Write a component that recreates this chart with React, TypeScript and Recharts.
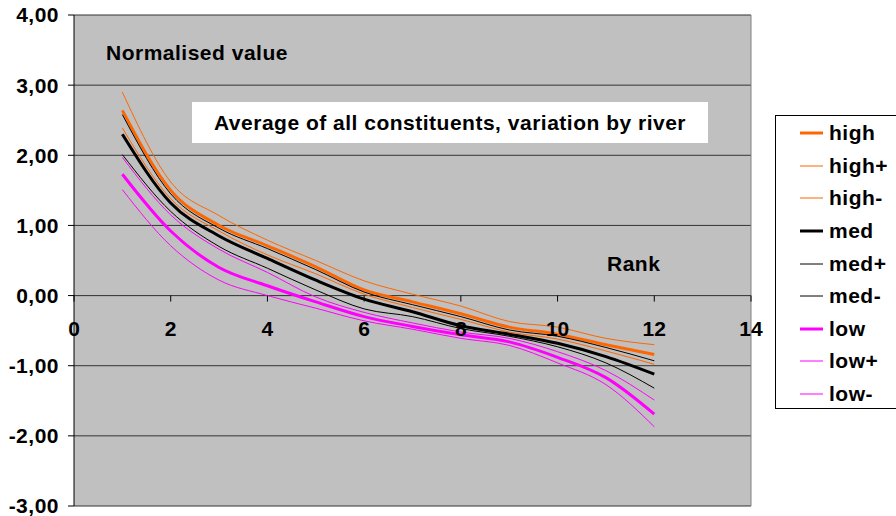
import React from 'react';
import { LineChart, Line, XAxis, YAxis, CartesianGrid, ReferenceLine, ReferenceDot } from 'recharts';

const ranks = [1, 2, 3, 4, 5, 6, 7, 8, 9, 10, 11, 12];

const highPlus = [2.9, 1.62, 1.14, 0.79, 0.5, 0.21, 0.02, -0.15, -0.37, -0.45, -0.61, -0.7];
const high = [2.64, 1.5, 1.0, 0.71, 0.41, 0.08, -0.09, -0.26, -0.45, -0.55, -0.7, -0.84];
const medPlus = [2.58, 1.45, 0.96, 0.67, 0.37, 0.05, -0.13, -0.3, -0.49, -0.58, -0.74, -0.93];
const highMinus = [2.39, 1.38, 0.92, 0.58, 0.31, 0.02, -0.17, -0.34, -0.52, -0.62, -0.79, -0.98];
const med = [2.3, 1.32, 0.85, 0.53, 0.22, -0.05, -0.23, -0.43, -0.55, -0.68, -0.87, -1.12];
const medMinus = [2.01, 1.2, 0.7, 0.39, 0.08, -0.19, -0.3, -0.47, -0.58, -0.73, -0.96, -1.32];
const lowPlus = [1.97, 1.15, 0.66, 0.33, -0.02, -0.24, -0.39, -0.52, -0.61, -0.8, -1.07, -1.49];
const low = [1.73, 0.92, 0.4, 0.14, -0.09, -0.3, -0.44, -0.56, -0.66, -0.88, -1.17, -1.69];
const lowMinus = [1.51, 0.71, 0.22, 0.0, -0.18, -0.36, -0.48, -0.61, -0.71, -0.96, -1.27, -1.87];

const yTicks = [-3, -2, -1, 0, 1, 2, 3, 4];
const xTicks = [0, 2, 4, 6, 8, 10, 12, 14];

const ORANGE = '#FF6600';
const MAGENTA = '#FF00FF';
const FONT = '"Liberation Sans", Arial, sans-serif';

const series = [
  { key: 'high', values: high, color: ORANGE, width: 3 },
  { key: 'high+', values: highPlus, color: ORANGE, width: 1 },
  { key: 'high-', values: highMinus, color: ORANGE, width: 1 },
  { key: 'med', values: med, color: '#000000', width: 3 },
  { key: 'med+', values: medPlus, color: '#000000', width: 1 },
  { key: 'med-', values: medMinus, color: '#000000', width: 1 },
  { key: 'low', values: low, color: MAGENTA, width: 3 },
  { key: 'low+', values: lowPlus, color: MAGENTA, width: 1 },
  { key: 'low-', values: lowMinus, color: MAGENTA, width: 1 },
];

const data = ranks.map((rank, i) => {
  const row: Record<string, number> = { rank };
  series.forEach((s) => { row[s.key] = s.values[i]; });
  return row;
});

const fmt = (v: number) => v.toFixed(2).replace('.', ',');

const textStyle: React.CSSProperties = {
  position: 'absolute',
  fontFamily: FONT,
  fontWeight: 'bold',
  fontSize: 21,
  letterSpacing: 0.5,
  lineHeight: '21px',
  color: '#000',
  whiteSpace: 'nowrap',
};

const LegendBox = () => (
  <div style={{
    position: 'absolute', left: 775, top: 115, width: 140, height: 294, background: '#fff',
    border: '1px solid #000', boxSizing: 'border-box', paddingTop: 1, fontFamily: FONT,
  }}>
    {series.map((s) => (
      <div key={s.key} style={{ display: 'flex', alignItems: 'center', height: 32.6 }}>
        <svg width={48} height={10} style={{ display: 'block' }}>
          <line x1={24} y1={5} x2={47} y2={5} stroke={s.color} strokeWidth={s.width} />
        </svg>
        <span style={{ marginLeft: 5, fontSize: 21, letterSpacing: 0.5, fontWeight: 'bold', color: '#000' }}>{s.key}</span>
      </div>
    ))}
  </div>
);

const XTick = (props: any) => (
  <line x1={props.cx} y1={props.cy} x2={props.cx} y2={props.cy + 6} stroke="#000" strokeWidth={1} />
);

export default function App() {
  return (
    <div style={{ position: 'absolute', left: 0, top: 0, width: 896, height: 516, background: '#fff', overflow: 'hidden' }}>
      <LineChart width={896} height={516} data={data} margin={{ top: 15, right: 145, bottom: 10, left: 0 }}>
        <CartesianGrid vertical={false} fill="#C0C0C0" stroke="#333" strokeWidth={1} />
        <XAxis dataKey="rank" type="number" domain={[0, 14]} ticks={xTicks} hide />
        <YAxis
          type="number"
          domain={[-3, 4]}
          ticks={yTicks}
          interval={0}
          tickFormatter={fmt}
          width={74}
          tickSize={6}
          tickMargin={9}
          axisLine={{ stroke: '#000' }}
          tickLine={{ stroke: '#000' }}
          tick={{ fill: '#000', fontSize: 21, letterSpacing: 0.5, fontWeight: 'bold', fontFamily: FONT }}
        />
        <ReferenceLine x={14} stroke="#808080" />
        <ReferenceLine y={0} stroke="#404040" />
        {xTicks.map((t) => (
          <ReferenceDot
            key={t}
            x={t}
            y={0}
            r={0}
            shape={XTick}
            label={{ value: String(t), position: 'bottom', offset: 26, fill: '#000', fontSize: 21, fontWeight: 'bold', fontFamily: FONT }}
          />
        ))}
        {series.map((s) => (
          <Line
            key={s.key}
            dataKey={s.key}
            type="monotone"
            stroke={s.color}
            strokeWidth={s.width}
            dot={false}
            activeDot={false}
            isAnimationActive={false}
          />
        ))}
      </LineChart>
      <LegendBox />
      <div style={{ ...textStyle, left: 106, top: 42 }}>Normalised value</div>
      <div style={{ ...textStyle, left: 607, top: 253 }}>Rank</div>
      <div style={{
        ...textStyle, left: 192, top: 102, width: 516, height: 41, background: '#fff',
        display: 'flex', alignItems: 'center', justifyContent: 'center',
      }}>
        Average of all constituents, variation by river
      </div>
    </div>
  );
}
